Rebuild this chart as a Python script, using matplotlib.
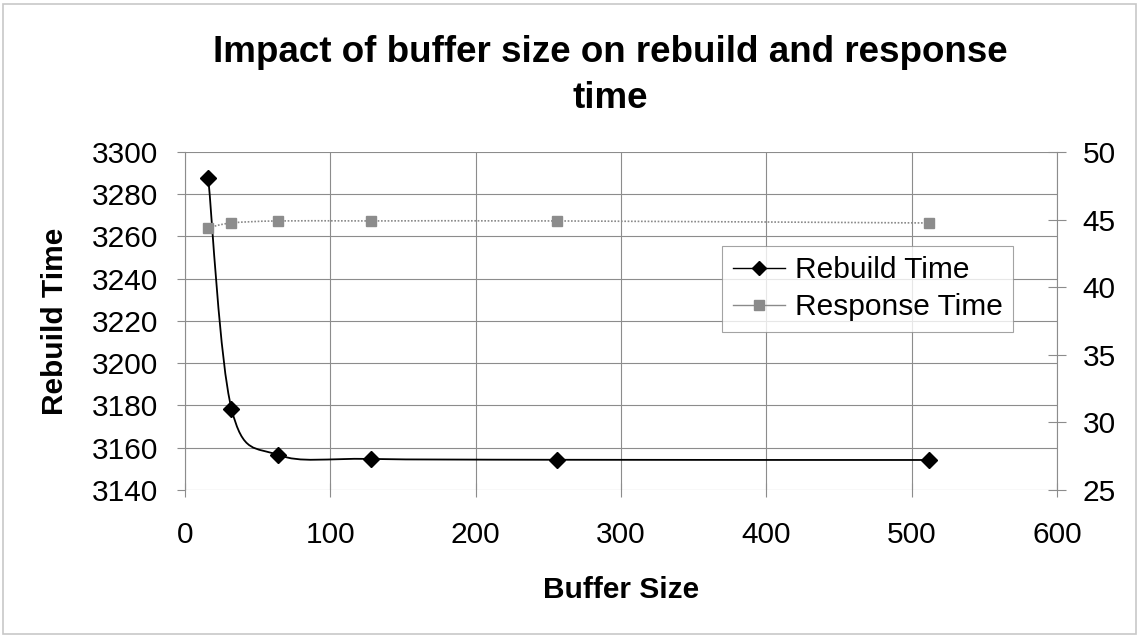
import numpy as np
import matplotlib
matplotlib.use("Agg")
import matplotlib.pyplot as plt
from matplotlib.path import Path
from matplotlib.patches import PathPatch, Rectangle
from matplotlib.lines import Line2D

plt.rcParams['font.family'] = ['Liberation Sans', 'DejaVu Sans']

buffer_size = [16, 32, 64, 128, 256, 512]
rebuild_time = [3287.7, 3178.5, 3156.6, 3154.7, 3154.3, 3154.2]
response_time = [44.4, 44.75, 44.9, 44.9, 44.9, 44.75]


def smooth_path(xs, ys, tension=1 / 6):
    """Excel-like smoothed line as cubic Bezier segments through the points."""
    pts = np.column_stack([xs, ys]).astype(float)
    verts = [pts[0]]
    codes = [Path.MOVETO]
    n = len(pts)
    for i in range(n - 1):
        p0 = pts[i - 1] if i > 0 else pts[i]
        p1 = pts[i]
        p2 = pts[i + 1]
        p3 = pts[i + 2] if i + 2 < n else pts[i + 1]
        c1 = p1 + (p2 - p0) * tension
        c2 = p2 - (p3 - p1) * tension
        verts += [c1, c2, p2]
        codes += [Path.CURVE4] * 3
    return Path(verts, codes)


fig = plt.figure(figsize=(11.39, 6.37), dpi=100)
fig.patches.append(Rectangle((0.003, 0.004), 0.994, 0.99, transform=fig.transFigure,
                             fill=False, edgecolor='#c8c8c8', lw=1.2))
ax = fig.add_axes([0.1624, 0.2308, 0.7656, 0.5306])
ax2 = ax.twinx()

ax.set_xlim(0, 600)
ax.set_ylim(3140, 3300)
ax2.set_ylim(25, 50)
ax.set_xticks(range(0, 601, 100))
ax.set_yticks(range(3140, 3301, 20))
ax2.set_yticks(range(25, 51, 5))
ax.grid(True, color='#8c8c8c', lw=0.8)
ax.set_axisbelow(True)

# rebuild time: smoothed black line with diamonds
ax.add_patch(PathPatch(smooth_path(buffer_size, rebuild_time), fill=False,
                       edgecolor='black', lw=1.3, zorder=3))
ax.plot(buffer_size, rebuild_time, ls='none', marker='D', ms=8.5, color='black', zorder=4)

# response time: smoothed gray dotted line with squares
ax2.add_patch(PathPatch(smooth_path(buffer_size, response_time), fill=False,
                        edgecolor='#8a8a8a', lw=1.2, ls=(0, (1, 1)), zorder=3))
ax2.plot(buffer_size, response_time, ls='none', marker='s', ms=7.5,
         color='#8c8c8c', zorder=4)

for a in (ax, ax2):
    for s in a.spines.values():
        s.set_visible(False)
ax.spines['left'].set_visible(True)
ax.spines['left'].set_color('#8c8c8c')
ax2.spines['right'].set_visible(True)
ax2.spines['right'].set_color('#8c8c8c')

ax.tick_params(axis='x', labelsize=21.5, direction='inout', length=10, pad=17,
               color='#8c8c8c', labelcolor='black')
ax.tick_params(axis='y', labelsize=21.5, direction='out', length=6, pad=13,
               color='#8c8c8c', labelcolor='black')
ax2.tick_params(axis='y', labelsize=21.5, direction='inout', length=13, pad=12,
                color='#8c8c8c', labelcolor='black')

ax.set_xlabel('Buffer Size', fontsize=21.5, fontweight='bold', labelpad=20)
ax.set_ylabel('Rebuild Time', fontsize=21.5, fontweight='bold', labelpad=17)
fig.text(0.5355, 0.882, 'Impact of buffer size on rebuild and response\ntime',
         fontsize=26.5, fontweight='bold', ha='center', va='center',
         multialignment='center', linespacing=1.4)

handles = [
    Line2D([], [], color='black', lw=1, marker='D', ms=7),
    Line2D([], [], color='#8a8a8a', lw=1, marker='s', ms=7),
]
leg = ax.legend(handles, ['Rebuild Time', 'Response Time'], loc='upper left',
                bbox_to_anchor=(0.616, 0.722), borderaxespad=0, fontsize=21.5,
                frameon=True, fancybox=False, edgecolor='#8c8c8c', handlelength=1.75,
                handletextpad=0.33, borderpad=0.35, labelspacing=0.3)
leg.get_frame().set_linewidth(0.8)
leg.set_zorder(10)

fig.savefig('out.png', dpi=100)
